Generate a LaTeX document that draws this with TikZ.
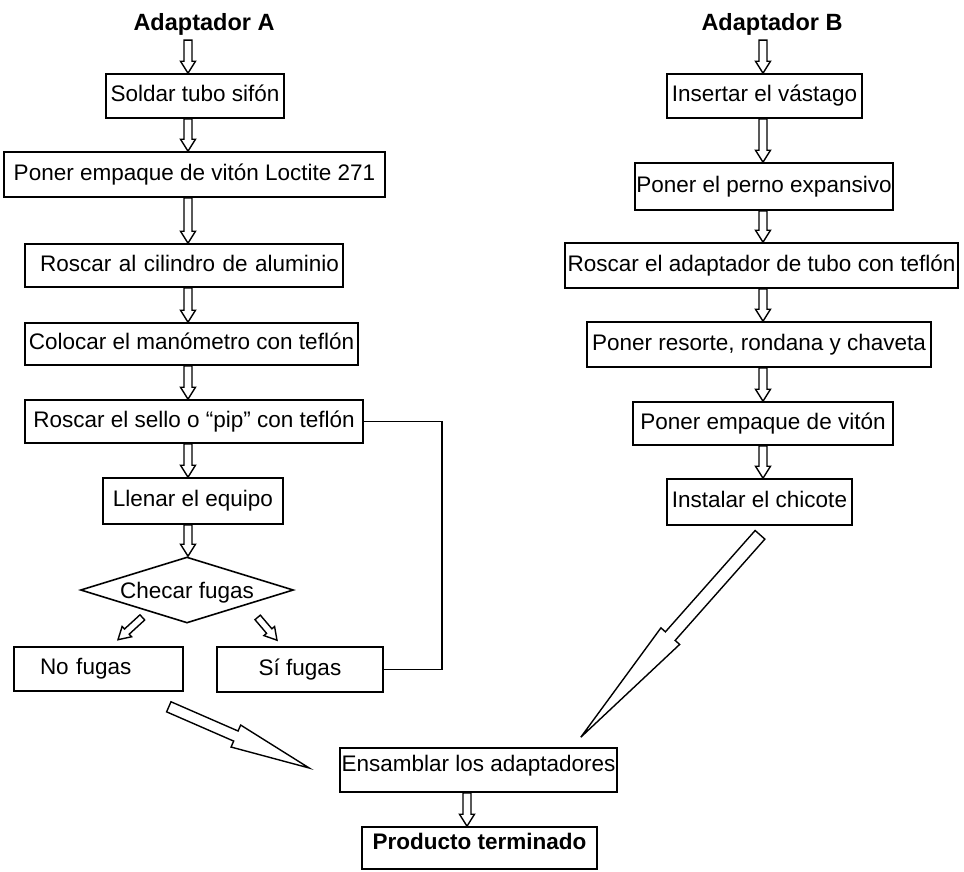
\documentclass[tikz,border=0pt]{standalone}
\usepackage{fontspec}
\setmainfont{Liberation Sans}
\usepackage{tikz}
\usetikzlibrary{shapes.geometric,calc}

% hollow block arrow: tail, tip, half shaft, half head, head length
\newcommand{\hollowarrow}[5]{%
  \coordinate (ta) at (#1);
  \coordinate (tb) at (#2);
  \coordinate (hh) at ($(tb)!#5!(ta)$);
  \draw[arrowline] ($(ta)!#3!90:(tb)$) -- ($(hh)!#3!90:(tb)$) -- ($(hh)!#4!90:(tb)$) -- (tb)
    -- ($(hh)!#4!-90:(tb)$) -- ($(hh)!#3!-90:(tb)$) -- ($(ta)!#3!-90:(tb)$) -- cycle;
}

\begin{document}
\begin{tikzpicture}[x=1pt, y=-1pt,
    box/.style={draw, line width=1.6pt, inner sep=0pt, text height=16pt, text depth=5pt,
      font=\fontsize{22.5}{26}\selectfont},
    check/.style={draw, diamond, line width=1.6pt, aspect=3.2, inner sep=0pt,
      minimum width=213pt, minimum height=66pt, text height=16pt, text depth=0pt,
      font=\fontsize{22.5}{26}\selectfont},
    title/.style={anchor=base, inner xsep=0pt, inner ysep=5pt, font=\bfseries\fontsize{23.5}{27}\selectfont},
    arrowline/.style={line width=1.4pt, fill=white, line join=miter},
    line/.style={line width=1.6pt}]
    \useasboundingbox (0,0) rectangle (964,871);

    \coordinate (colA) at (188,0);
    \coordinate (colB) at (763,0);
    \coordinate (colC) at (467,0);
    \coordinate (loopx) at (442,0);

    \node[title] (titA) at (204,30) {Adaptador A};
    \node[title] (titB) at (772,30) {Adaptador B};

    % Adaptador A
    \node[box, minimum width=178pt, minimum height=44pt] (sold) at (195,96) {Soldar tubo sifón};
    \node[box, minimum width=381pt, minimum height=45pt] (empA) at (194.5,174.5) {Poner empaque de vitón Loctite 271};
    \node[box, minimum width=318pt, minimum height=43pt, text width=310pt, align=right] (cil) at (184,265.5) {Roscar al cilindro de aluminio};
    \node[box, minimum width=333pt, minimum height=42pt] (man) at (191.5,344) {Colocar el manómetro con teflón};
    \node[box, minimum width=338pt, minimum height=43pt] (sello) at (194,421.5) {Roscar el sello o “pip” con teflón};
    \node[box, minimum width=180pt, minimum height=46pt] (llen) at (193,501) {Llenar el equipo};
    \node[check] (chk) at (187,590) {Checar fugas};
    \node[box, minimum width=169pt, minimum height=44pt, text width=117pt, align=left] (nof) at (98.5,669) {No fugas};
    \node[box, minimum width=166pt, minimum height=45pt] (sif) at (300,669.5) {Sí fugas};

    % Adaptador B
    \node[box, minimum width=195pt, minimum height=44pt] (ins) at (764.5,96) {Insertar el vástago};
    \node[box, minimum width=258pt, minimum height=47pt] (per) at (764,186.5) {Poner el perno expansivo};
    \node[box, minimum width=393pt, minimum height=45pt] (rosB) at (761.5,265.5) {Roscar el adaptador de tubo con teflón};
    \node[box, minimum width=344pt, minimum height=45pt] (res) at (759,344.5) {Poner resorte, rondana y chaveta};
    \node[box, minimum width=260pt, minimum height=43pt] (empB) at (763,423.5) {Poner empaque de vitón};
    \node[box, minimum width=185pt, minimum height=46pt] (chi) at (759.5,502) {Instalar el chicote};

    % ensamble
    \node[box, minimum width=277pt, minimum height=44pt, text depth=13pt] (ens) at (478.5,770) {Ensamblar los adaptadores};
    \node[box, minimum width=235pt, minimum height=42pt, text depth=13pt,
      font=\bfseries\fontsize{22.5}{26}\selectfont] (prod) at (479.5,848) {Producto terminado};

    % flechas
    \hollowarrow{titA.south -| colA}{sold.north -| colA}{4pt}{7.5pt}{12pt}
    \foreach \a/\b in {sold/empA, empA/cil, cil/man, man/sello, sello/llen, llen/chk}
      {\hollowarrow{\a.south -| colA}{\b.north -| colA}{4pt}{7.5pt}{12pt}}
    \hollowarrow{titB.south -| colB}{ins.north -| colB}{4pt}{7.5pt}{12pt}
    \foreach \a/\b in {ins/per, per/rosB, rosB/res, res/empB, empB/chi}
      {\hollowarrow{\a.south -| colB}{\b.north -| colB}{4pt}{7.5pt}{12pt}}
    \hollowarrow{ens.south -| colC}{prod.north -| colC}{4pt}{7.5pt}{12pt}

    \hollowarrow{$(chk.south west)+(9,10.5)$}{$(nof.north)+(19.5,-6.5)$}{3.5pt}{7pt}{12pt}
    \hollowarrow{$(chk.south east)+(17,10.5)$}{$(sif.north)+(-23,-6)$}{3.5pt}{7pt}{12pt}

    \hollowarrow{$(nof.south east)+(-15,15)$}{$(ens.west)+(-30,-2)$}{5.5pt}{12pt}{80pt}
    \hollowarrow{$(chi.south)+(0.5,9)$}{$(ens.north east)+(-37,-10)$}{6.5pt}{12.5pt}{135pt}

    \draw[line] (sello.east) -- (sello.east -| loopx) |- (sif.east);
\end{tikzpicture}
\end{document}
